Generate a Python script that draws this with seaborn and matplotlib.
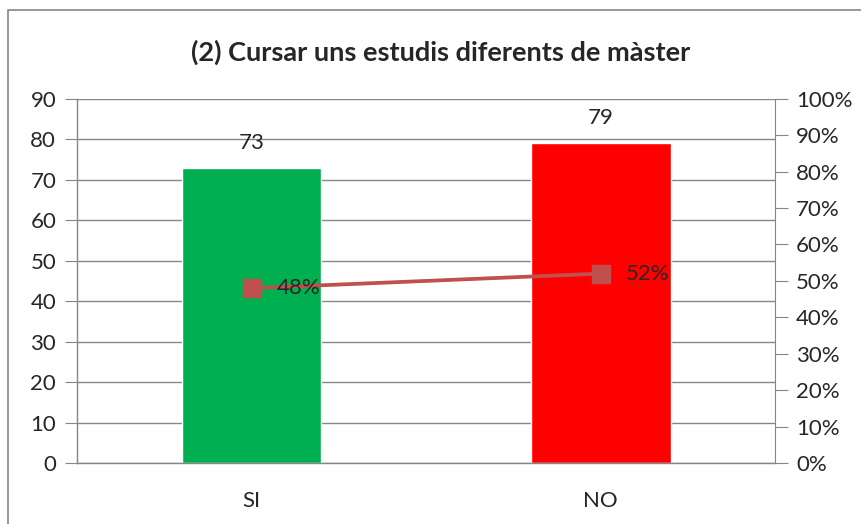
import numpy as np
import matplotlib
matplotlib.use("Agg")
import matplotlib.pyplot as plt
import seaborn as sns
from matplotlib.patches import Rectangle
from matplotlib.ticker import MultipleLocator, FixedLocator

categories = ["SI", "NO"]
counts = [73, 79]
shares = [0.48, 0.52]
share_labels = ["48%", "52%"]
bar_colors = ["#00B050", "#FF0000"]
title = "(2) Cursar uns estudis diferents de màster"

sns.set_style("white")
plt.rcParams["font.family"] = ["Lato", "DejaVu Sans"]

grey = "#868686"

fig = plt.figure(figsize=(8.61, 5.24), dpi=100)
ax = fig.add_axes([0.0894, 0.1164, 0.811, 0.695])

sns.barplot(
    x=categories, y=counts, hue=categories,
    palette=bar_colors, width=0.4, legend=False,
    saturation=1, ax=ax
)

ax.set_xlim(-0.5, 1.5)
ax.set_ylim(0, 90)
ax.yaxis.set_major_locator(MultipleLocator(10))
ax.grid(axis="y", color=grey, linewidth=1)
ax.set_axisbelow(True)

for s in ["top", "right"]:
    ax.spines[s].set_visible(False)
for s in ["left", "bottom"]:
    ax.spines[s].set_color(grey)
    ax.spines[s].set_linewidth(1)

ax.tick_params(axis="y", length=9, color=grey, labelsize=16, pad=6)
ax.tick_params(axis="x", which="major", length=0, labelsize=16, pad=20)
ax.xaxis.set_minor_locator(FixedLocator([-0.5, 0.5, 1.5]))
ax.tick_params(axis="x", which="minor", length=9, color=grey)

for i, v in enumerate(counts):
    ax.annotate(str(v), (i, v), xytext=(0, 18), textcoords="offset points",
                ha="center", va="center", fontsize=16)

ax2 = ax.twinx()
x = np.arange(len(categories))
ax2.plot(x, shares, color="#C0504D", linewidth=2.7, marker="s",
         markersize=13, zorder=3)
ax2.set_ylim(0, 1)
ax2.yaxis.set_major_locator(MultipleLocator(0.1))
ax2.set_yticklabels([f"{int(round(t * 100))}%" for t in ax2.get_yticks()])
for s in ["top", "left", "bottom"]:
    ax2.spines[s].set_visible(False)
ax2.spines["right"].set_color(grey)
ax2.tick_params(axis="y", length=9, color=grey, labelsize=16, pad=6)

for i, (p, lab) in enumerate(zip(shares, share_labels)):
    ax2.annotate(lab, (i, p), xytext=(18, 0), textcoords="offset points",
                 ha="left", va="center", fontsize=16)

fig.text(0.512, 0.90, title, ha="center", va="center",
         fontsize=19.5, fontweight="bold")

fig.patches.append(Rectangle((0.0093, -0.1), 1.2, 0.981 + 0.1,
                             transform=fig.transFigure, fill=False,
                             edgecolor=grey, linewidth=1.2))

fig.savefig("out.png", dpi=100)
plt.close(fig)
